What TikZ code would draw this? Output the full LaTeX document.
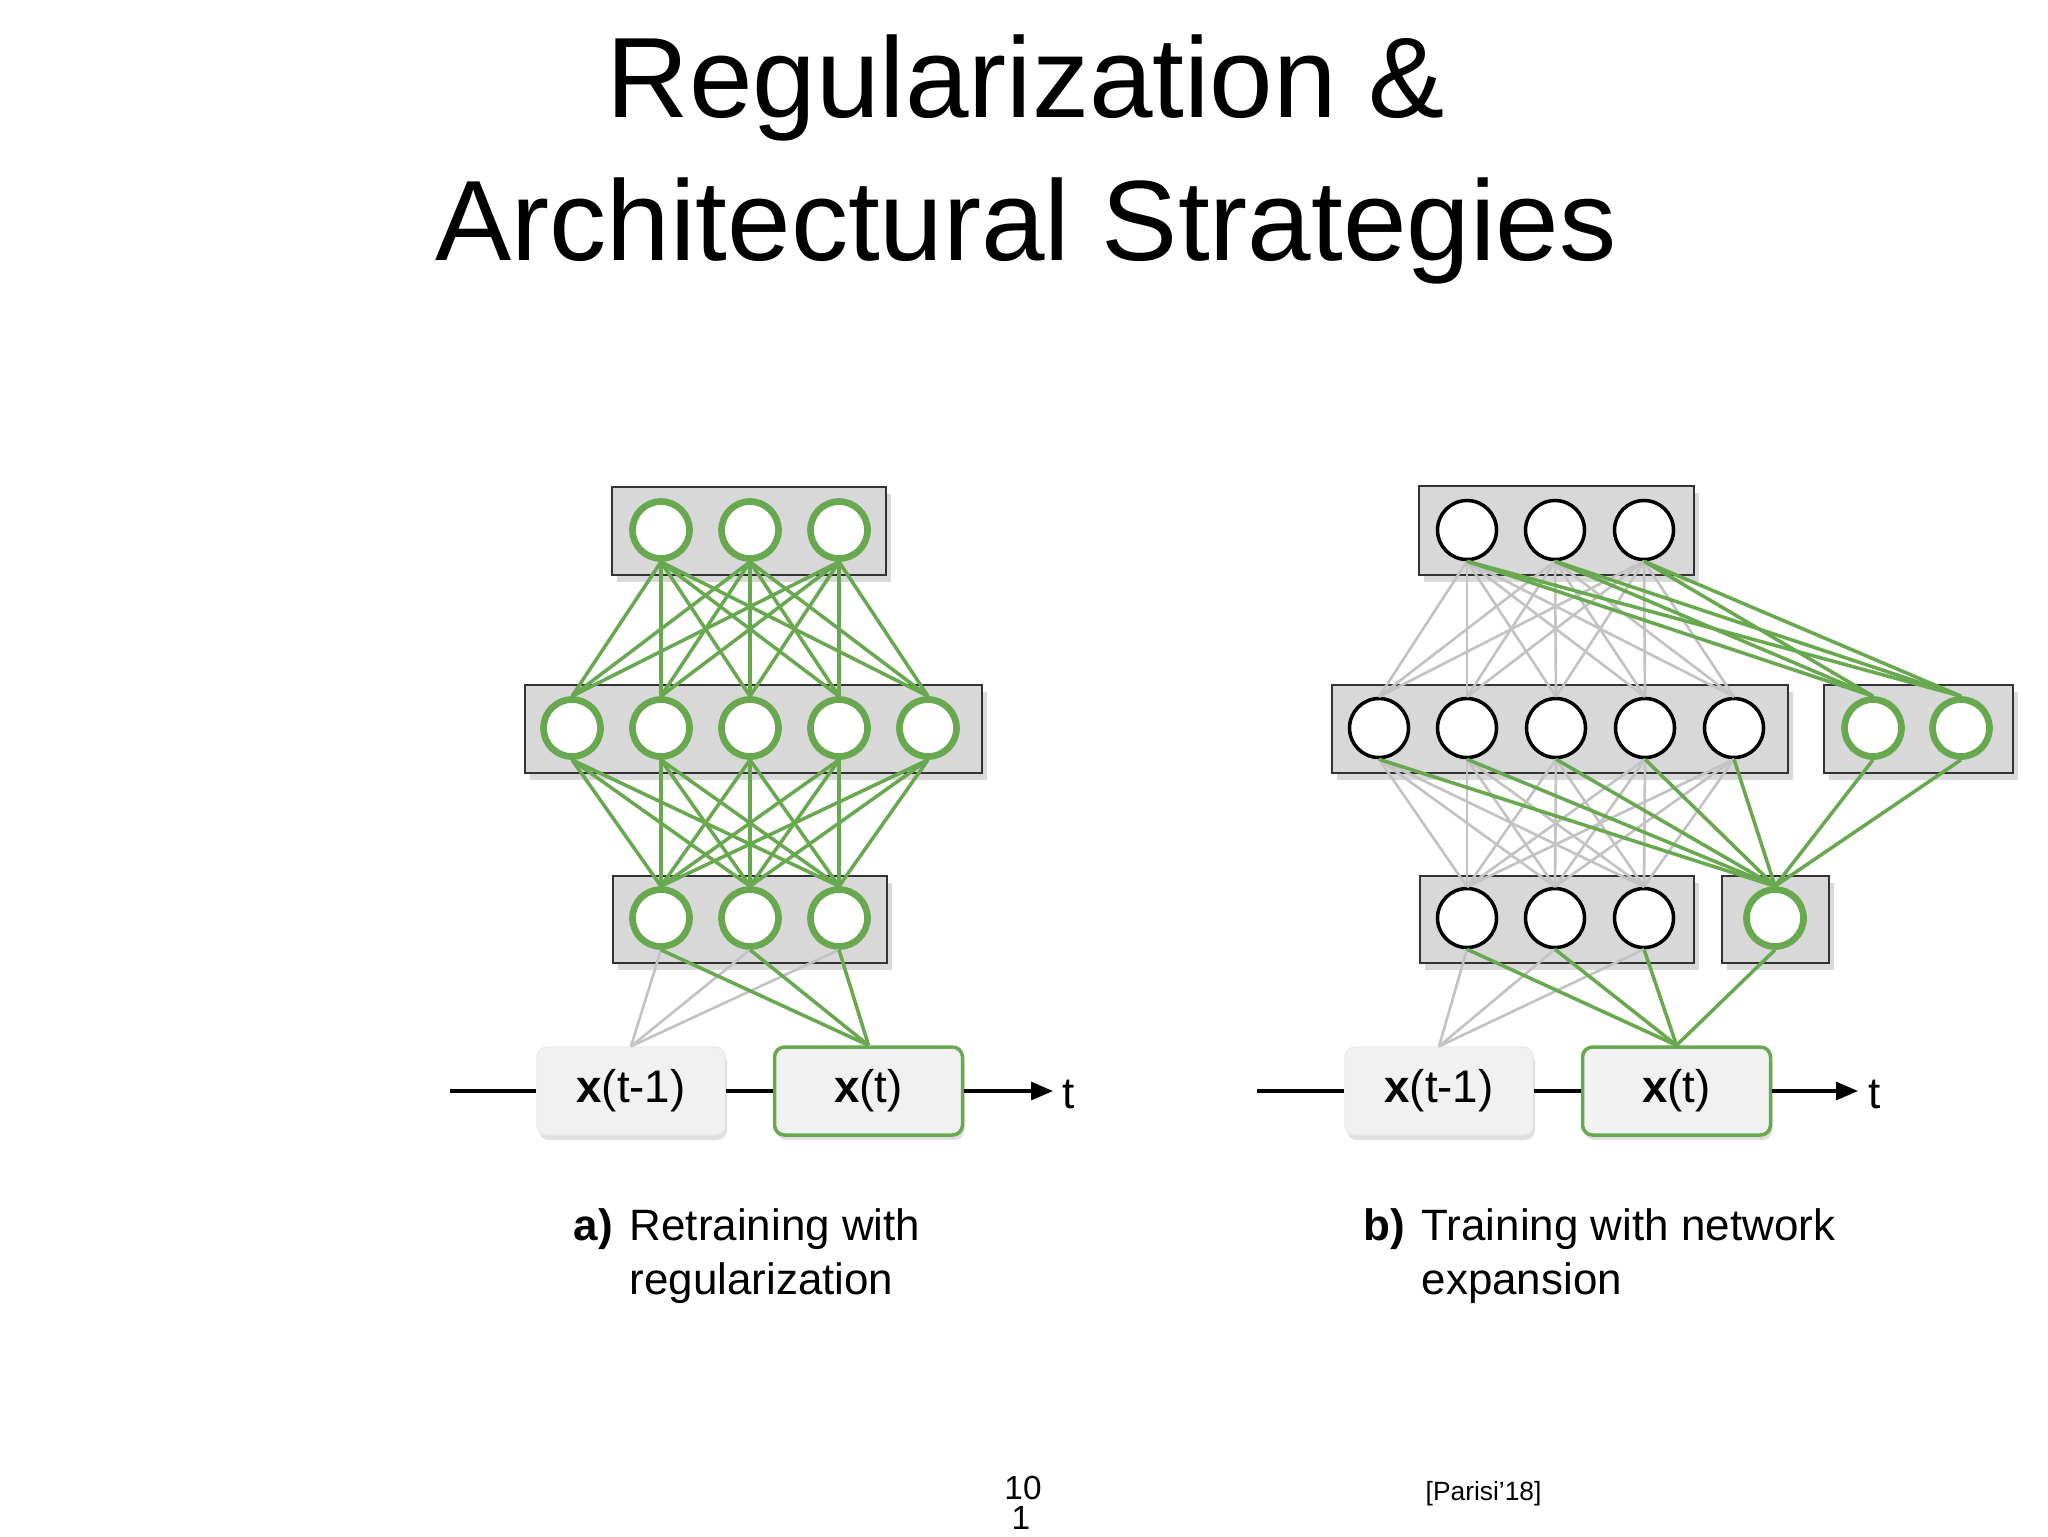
\documentclass[tikz,border=0pt]{standalone}
\usepackage{fontspec}
\setmainfont{Liberation Sans}
\usepackage{tikz}
\usetikzlibrary{arrows.meta,shadows,positioning}

\definecolor{netgreen}{RGB}{104,168,78}
\definecolor{linkgrey}{RGB}{195,195,195}
\definecolor{layerfill}{RGB}{216,216,216}
\definecolor{inputfill}{RGB}{241,241,241}

\begin{document}
\begin{tikzpicture}[
      x=0.1mm, y=-0.1mm,%
      layerbox/.style={draw=black!80, fill=layerfill, line width=0.8pt,
        drop shadow={shadow xshift=0.5mm, shadow yshift=-0.7mm, opacity=0.3}},%
      greenunit/.style={circle, draw=netgreen, line width=1.9pt, fill=white,
        minimum size=5.7mm, inner sep=0pt},%
      oldunit/.style={circle, draw=black, line width=1pt, fill=white,
        minimum size=5.9mm, inner sep=0pt},%
      inputbox/.style={rounded corners=1mm, fill=inputfill, draw=black!8,
        minimum width=18.8mm, minimum height=8.8mm, inner sep=0pt,
        font=\fontsize{13}{15}\selectfont,
        drop shadow={shadow xshift=0.2mm, shadow yshift=-0.5mm, opacity=0.25}},%
      newinput/.style={inputbox, draw=netgreen, line width=1pt},%
      greenlink/.style={draw=netgreen, line width=1pt},%
      greylink/.style={draw=linkgrey, line width=0.75pt},%
      timeline/.style={draw=black, line width=0.9pt},%
      caption/.style={font=\fontsize{12.5}{15}\selectfont, inner sep=0pt}%
    ]
    \useasboundingbox (0,0) rectangle (2048,1536);

    %% Title
    \node[anchor=base, inner sep=0pt, font=\fontsize{32.5}{40}\selectfont]
      (title1) at (1026,117) {Regularization \&};
    \node[anchor=base, inner sep=0pt, font=\fontsize{32.5}{40}\selectfont]
      (title2) at (1026,260) {Architectural Strategies};

    %% a) layer boxes
    \draw[layerbox] (612,487) rectangle (886,575);
    \draw[layerbox] (525,685) rectangle (982,773);
    \draw[layerbox] (613,876) rectangle (887,963);

    %% a) units
    \foreach \x [count=\i] in {661,750,839}
      \node[greenunit] (at\i) at (\x,530) {};
    \foreach \x [count=\i] in {572,661,750,839,928}
      \node[greenunit] (am\i) at (\x,728) {};
    \foreach \x [count=\i] in {661,750,839}
      \node[greenunit] (ab\i) at (\x,918) {};

    %% a) inputs over time
    \node[inputbox] (xpa) at (631,1091) {\raisebox{-0.6mm}{\textbf{x}(t-1)}};
    \node[newinput] (xca) at (868.5,1091) {\raisebox{-0.6mm}{\textbf{x}(t)}};
    \coordinate (starta) at (450,1091);
    \coordinate (tipa) at (1053,1091);
    \draw[timeline] (starta) -- (xpa.west);
    \draw[timeline] (xpa.east) -- (xca.west);
    \draw[timeline, -{Triangle[length=2.2mm,width=1.8mm]}] (xca.east) -- (tipa);
    \node[caption, anchor=base west] (ta) at (1062,1108) {t};

    %% a) links
    \foreach \i in {1,2,3}
      \draw[greylink] (ab\i.south) -- (xpa.north);
    \foreach \i in {1,2,3}
      \foreach \j in {1,...,5}
        \draw[greenlink] (at\i.south) -- (am\j.north);
    \foreach \i in {1,...,5}
      \foreach \j in {1,2,3}
        \draw[greenlink] (am\i.south) -- (ab\j.north);
    \foreach \i in {1,2,3}
      \draw[greenlink] (ab\i.south) -- (xca.north);

    %% a) caption
    \node[caption, anchor=base west] (capa) at (573,1240) {\textbf{a)}};
    \node[caption, anchor=base west] (capa1) at (629,1240) {Retraining with};
    \node[caption, anchor=base west] (capa2) at (629,1294) {regularization};

    %% b) layer boxes
    \draw[layerbox] (1419,486) rectangle (1694,575);
    \draw[layerbox] (1332,685) rectangle (1788,773);
    \draw[layerbox] (1824,685) rectangle (2013,773);
    \draw[layerbox] (1420,876) rectangle (1694,963);
    \draw[layerbox] (1722,876) rectangle (1829,963);

    %% b) units
    \foreach \x [count=\i] in {1467,1555,1644}
      \node[oldunit] (bt\i) at (\x,530) {};
    \foreach \x [count=\i] in {1379,1467,1556,1645,1734}
      \node[oldunit] (bm\i) at (\x,728) {};
    \foreach \x [count=\i] in {1873,1961}
      \node[greenunit] (bmnew\i) at (\x,728) {};
    \foreach \x [count=\i] in {1467,1555,1644}
      \node[oldunit] (bb\i) at (\x,918) {};
    \node[greenunit] (bbnew) at (1775,918) {};

    %% b) inputs over time
    \node[inputbox] (xpb) at (1439,1091) {\raisebox{-0.6mm}{\textbf{x}(t-1)}};
    \node[newinput] (xcb) at (1676.5,1091) {\raisebox{-0.6mm}{\textbf{x}(t)}};
    \coordinate (startb) at (1257,1091);
    \coordinate (tipb) at (1858,1091);
    \draw[timeline] (startb) -- (xpb.west);
    \draw[timeline] (xpb.east) -- (xcb.west);
    \draw[timeline, -{Triangle[length=2.2mm,width=1.8mm]}] (xcb.east) -- (tipb);
    \node[caption, anchor=base west] (tb) at (1868,1108) {t};

    %% b) old links
    \foreach \i in {1,2,3}
      \foreach \j in {1,...,5}
        \draw[greylink] (bt\i.south) -- (bm\j.north);
    \foreach \i in {1,...,5}
      \foreach \j in {1,2,3}
        \draw[greylink] (bm\i.south) -- (bb\j.north);
    \foreach \i in {1,2,3}
      \draw[greylink] (bb\i.south) -- (xpb.north);

    %% b) new links
    \foreach \i in {1,2,3}
      \foreach \j in {1,2}
        \draw[greenlink] (bt\i.south) -- (bmnew\j.north);
    \foreach \i in {1,...,5}
      \draw[greenlink] (bm\i.south) -- (bbnew.north);
    \foreach \j in {1,2}
      \draw[greenlink] (bmnew\j.south) -- (bbnew.north);
    \foreach \i in {1,2,3}
      \draw[greenlink] (bb\i.south) -- (xcb.north);
    \draw[greenlink] (bbnew.south) -- (xcb.north);

    %% b) caption
    \node[caption, anchor=base west] (capb) at (1363,1240) {\textbf{b)}};
    \node[caption, anchor=base west] (capb1) at (1421,1240) {Training with network};
    \node[caption, anchor=base west] (capb2) at (1421,1294) {expansion};

    %% Footer
    \node[anchor=base, inner sep=0pt, font=\fontsize{9.5}{11}\selectfont]
      (pagenum) at (1023,1499) {10};
    \node[anchor=base, inner sep=0pt, font=\fontsize{9.5}{11}\selectfont]
      (pagenum2) at (1021,1529) {1};
    \node[anchor=base west, inner sep=0pt, font=\fontsize{7.5}{9}\selectfont]
      (cite) at (1425,1500) {[Parisi’18]};
  \end{tikzpicture}
\end{document}
